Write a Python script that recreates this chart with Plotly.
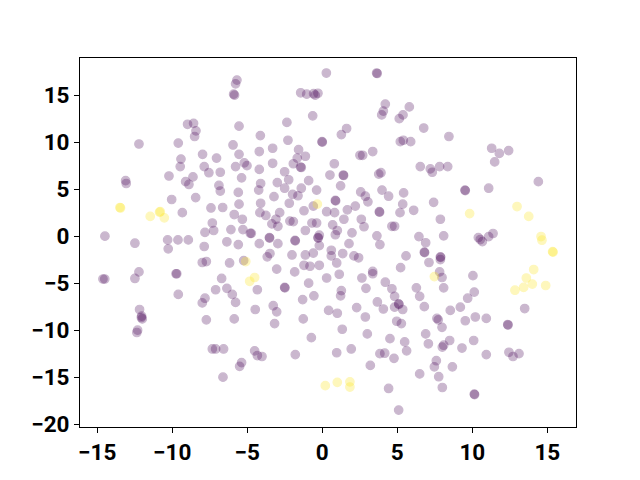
import plotly.graph_objects as go

# class 0 (purple) points
x0 = [-5.69, -5.78, -5.91, -5.85, -8.98, -8.58, -8.42, -8.51, -5.55, -12.22, -9.6, -5.95, -7.98, -7.05,
      -5.55, -9.42, -9.47, -7.87, -7.56, -6.8, -5.78, -5.2, -5.02, -10.22, -8.62, -9.11, -8.89, -13.11,
      -13.07, -5.38, -6.89, -6.8, -5.6, -8.44, -10.04, -5.55, -7.42, -6.64, -9.33, -5.87, -5.33, -7.33,
      -7.82, -7.24, -6.09, -5.29, -4.8, -14.49, -12.49, -10.31, -9.62, -8.93, -7.87, -6.36, -5.6,
      -10.27, -8.0, -7.73, -6.18, -5.24, -14.62, -14.5, -12.49, -12.22, -9.75, -9.7, -6.71, -7.11, -6.36,
      -6.0, -5.78, -9.6, -7.82, -8.0, -12.18, -12.04, -12.0, -12.06, -12.31, -12.36, -7.73, -5.87, -7.33,
      -7.11, -6.58, -5.38, -5.51, -6.62,
      0.27, 3.62, 3.66, -1.44, -1.04, -0.58, -0.47, -0.29, 4.2, 4.07, 3.96, 5.8, 5.38, 5.13, -0.64, -2.36,
      1.62, 1.27, -4.13, -2.29, -0.02, 0.0, 5.2, 5.4, 5.89, -4.2, -3.31, -1.58, -1.13, -1.67, -3.31, -1.93,
      -1.4, -1.45, -4.2, 0.8, 2.51, 2.69, 3.36, -2.51, 0.51, 1.4, 1.42, 3.76, 3.91, -4.11, -3.0, -2.24,
      -0.91, -4.24, -2.51, -1.4, 1.22, -0.38, -3.22, -1.98, -1.62, 2.56, 2.87, 3.04, 3.98, 4.42, 5.42,
      -4.11, -2.2, 0.87, 0.89, 2.2, -0.6, 5.36, -4.16, -3.76, -2.84, -1.22, 0.29, 0.82, 1.67, 3.8, 3.82,
      5.18, 6.09, -3.36, -3.09, -2.96, -2.16, -1.93, -0.69, -0.38, 0.69, 1.44, 2.6, 2.78, 4.64, 4.82,
      -4.73, -1.13, -0.2, -0.29, -0.27, 0.87, 1.0, 1.98, 3.64, -3.53, -3.51, -1.8, -1.82, -4.2, -2.96,
      -0.2, 1.78, 3.84,
      6.76, 8.44, 11.29, 11.8, 12.42, 11.49, 6.53, 7.2, 7.33, 7.82, 8.36, 9.51, 9.53, 11.09, 14.4, 7.42,
      7.87, 6.44, 6.89, 8.09, 10.4, 10.53, 10.67, 11.09, 11.38,
      13.49, 12.36, 12.38, 12.44, 12.71, 13.11, 10.13, 10.15, 6.8, 6.82, 7.87, 7.89, 7.87, 7.11, 7.82,
      7.98, 10.04, 6.27, 6.49, 8.09, 10.13, 9.69, 6.8, 8.53, 9.2, 7.64, 7.73, 7.98, 9.53, 10.2, 10.93,
      6.89, 7.07, 8.0, 8.09, 8.49, 9.31, 10.09, 10.93, 7.6, 7.47, 8.67, 6.49, 7.76, 8.0,
      -3.67, -3.49, -2.02, -1.13, -0.6, 0.6, 0.6, 1.36, 2.11, 2.42, 5.58, -3.04, -1.84, -1.22, -0.82,
      -0.2, 0.96, 1.13, 0.29, -0.91, 2.64, 3.36, 3.36, 5.22, 4.2, -4.33, -2.51, -2.49, -0.56, -1.31,
      1.27, 1.22, 2.91, 4.64, 4.82, 5.09, 5.11, 3.67, 4.07, 4.82, 5.36, -4.47, -3.27, -3.04, -3.18,
      -1.27, 0.42, 1.0, 2.29, 2.87, 4.96, 5.27, 1.33, 3.0, -0.73, 4.51, 5.49, 5.62, -4.51, -4.33, -4.02,
      -1.8, 0.96, 1.93, 3.84, 4.16, 4.78, 3.2, 4.42, 5.09]
y0 = [16.6, 16.2, 15.1, 15.0, 11.9, 12.0, 11.2, 10.6, 11.7, 9.8, 9.9, 9.7, 8.7, 8.3,
      8.7, 8.2, 7.4, 7.4, 6.75, 6.8, 7.4, 7.8, 7.5, 6.4, 6.3, 5.8, 5.5, 5.9,
      5.6, 6.2, 5.4, 4.8, 4.65, 4.1, 3.9, 3.4, 3.0, 3.05, 2.5, 2.3, 1.8, 1.4,
      0.4, 0.6, 0.7, 0.7, 0.3, 0.0, -0.75, -0.4, -0.4, -0.4, -1.1, -0.6, -0.9,
      -1.35, -2.8, -2.7, -2.85, -2.6, -4.56, -4.56, -4.5, -3.8, -4.0, -4.0, -4.5, -5.7, -5.55,
      -6.2, -7.05, -6.2, -6.6, -7.1, -7.8, -8.5, -8.8, -8.65, -10.0, -10.25, -8.9, -8.8, -12.0,
      -12.0, -12.0, -13.45, -13.85, -15.0,
      17.35, 17.35, 17.3, 15.25, 15.1, 15.15, 15.0, 15.2, 14.05, 13.3, 12.9, 13.75, 12.9, 12.5, 12.8, 12.1,
      11.45, 10.8, 10.7, 10.2, 10.05, 10.0, 10.05, 10.2, 10.05, 9.0, 9.35, 9.2, 8.5, 8.3, 7.75, 7.7,
      7.3, 7.35, 7.1, 7.7, 8.6, 8.6, 9.0, 6.85, 6.5, 6.5, 6.45, 6.6, 6.75, 5.6, 5.7, 6.0,
      5.9, 4.9, 5.1, 5.1, 5.35, 4.9, 4.2, 4.45, 4.3, 4.7, 4.25, 3.65, 4.9, 4.25, 4.6,
      3.5, 3.5, 3.8, 3.75, 3.2, 3.2, 3.4, 2.5, 2.2, 2.5, 2.7, 2.6, 2.5, 2.8, 2.6, 2.55,
      2.5, 2.75, 1.3, 1.8, 1.05, 1.6, 1.55, 1.4, 1.4, 1.2, 1.8, 1.8, 1.0, 1.05, 1.05,
      0.3, 0.6, 0.1, -0.15, -0.2, 0.15, 0.6, 0.35, 0.03, -0.15, -0.2, -0.5, -0.45, -0.8, -0.8,
      -1.0, -0.8, -0.9,
      11.5, 10.6, 9.35, 8.8, 9.1, 7.9, 7.4, 7.15, 6.8, 7.4, 7.4, 4.9, 4.85, 5.1, 5.8, 3.6,
      1.8, -0.05, -0.7, 0.03, -0.15, -0.36, -0.58, -0.05, 0.28,
      -7.7, -9.4, -9.45, -12.35, -12.8, -12.5, -16.8, -16.85, -1.7, -1.75, -2.2, -2.25, -2.5, -2.8, -3.8,
      -4.4, -4.2, -5.5, -6.4, -5.5, -5.95, -6.6, -7.5, -7.9, -7.55, -8.75, -8.9, -9.7, -9.0, -8.6, -8.75,
      -10.4, -11.45, -11.8, -11.6, -11.1, -11.9, -11.1, -12.6, -13.25, -13.9, -13.9, -14.65, -14.95, -16.1,
      -2.2, -1.85, -2.0, -2.0, -1.8, -1.5, -2.1, -1.85, -2.1, -2.3, -2.1, -3.5, -3.8, -3.1, -3.2,
      -3.1, -2.85, -4.05, -4.45, -5.0, -4.45, -3.75, -4.0, -3.35, -4.9, -5.7, -5.45, -5.5, -6.35, -6.75,
      -5.8, -6.35, -5.55, -5.6, -6.4, -7.2, -7.25, -7.0, -7.75, -7.55, -7.8, -7.8, -7.4, -8.05, -9.3,
      -8.8, -7.9, -8.2, -7.6, -8.6, -9.05, -9.3, -9.9, -10.4, -10.8, -10.9, -11.25, -12.2, -12.2, -12.7, -12.8,
      -12.6, -12.4, -12.0, -12.5, -12.45, -13.0, -13.75, -16.2, -18.5]

# class 1 (yellow) points
x1 = [-13.49, -13.45, -11.47, -10.8, -10.85, -10.53, -5.1, -4.84, -4.51, -0.33, 9.82, 12.98, 13.76,
      14.58, 14.64, 15.38, 15.35, 14.09, 13.6, 14.0, 13.42, 12.84, 14.89, 7.47, 0.2, 1.0, 1.84, 1.84]
y1 = [3.05, 3.0, 2.1, 2.6, 2.55, 1.95, -2.7, -4.8, -4.4, 3.4, 2.4, 3.15, 2.1,
      -0.04, -0.43, -1.7, -1.65, -3.55, -4.45, -5.1, -5.45, -5.75, -5.25, -4.3, -15.9, -15.55, -15.5, -16.05]

x_ticks = [-15, -10, -5, 0, 5, 10, 15]
y_ticks = [-20, -15, -10, -5, 0, 5, 10, 15]

PURPLE = "#440154"
YELLOW = "#fde725"

fig = go.Figure()
fig.add_trace(go.Scatter(
    x=x0, y=y0, mode="markers",
    marker=dict(size=8.5, color=PURPLE, opacity=0.28, line=dict(width=1.2, color=PURPLE)),
    showlegend=False, hoverinfo="skip"))
fig.add_trace(go.Scatter(
    x=x1, y=y1, mode="markers",
    marker=dict(size=8.5, color=YELLOW, opacity=0.3, line=dict(width=1.2, color=YELLOW)),
    showlegend=False, hoverinfo="skip"))

tick_font = dict(family="Roboto", size=22.5, color="black", weight="bold")
axis_common = dict(showline=True, mirror=True, linecolor="black", linewidth=1,
                   ticks="outside", ticklen=5, tickwidth=1, tickcolor="black",
                   showgrid=False, zeroline=False, tickfont=tick_font, automargin=False)

fig.update_layout(
    width=640, height=480,
    margin=dict(l=72, r=72, t=50, b=61),
    paper_bgcolor="white", plot_bgcolor="white",
    xaxis=dict(range=[-16.15, 16.91], tickvals=x_ticks, **axis_common),
    yaxis=dict(range=[-20.3, 18.95], tickvals=y_ticks, **axis_common),
)

fig.write_html("out.html")
